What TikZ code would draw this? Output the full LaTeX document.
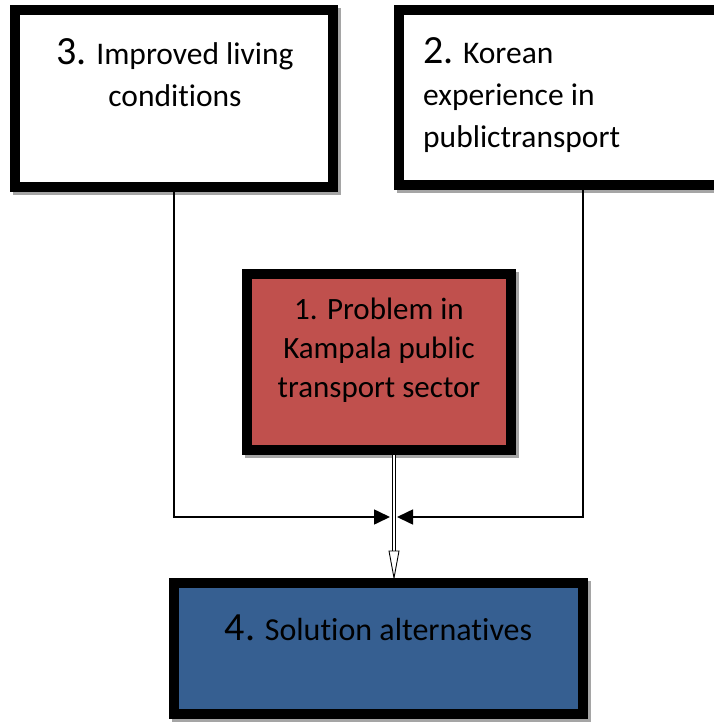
\documentclass[tikz,border=0pt]{standalone}
\usepackage{fontspec}
\setmainfont{Carlito}[Ligatures={NoCommon}]
\usetikzlibrary{arrows.meta,backgrounds}
\definecolor{probred}{HTML}{C0504D}
\definecolor{solblue}{HTML}{365F91}
\definecolor{shadowc}{RGB}{165,165,165}
\newcommand\bignum[1]{{\fontsize{40}{42}\selectfont #1}}
\begin{document}
\begin{tikzpicture}[x=1pt,y=-1pt,
  box/.style={draw=black, line width=10pt, rectangle, inner sep=0pt},
  txt/.style={inner sep=0pt, text=black},
  conn/.style={line width=1.6pt, draw=black},
  tipc/.style={-{Triangle[length=16pt,width=15pt]}}]
\useasboundingbox (0,0) rectangle (713,722);
% boxes
\node[box, fill=white, minimum width=318pt, minimum height=177pt] (b3) at (174,98.5) {};
\node[box, fill=white, minimum width=336pt, minimum height=175pt] (b2) at (567,97.5) {};
\node[box, fill=probred, minimum width=264pt, minimum height=176pt] (b1) at (379,362) {};
\node[box, fill=solblue, minimum width=409pt, minimum height=131pt] (b4) at (378.5,648.5) {};
% shadows
\begin{pgfonlayer}{background}
\foreach \b in {b3,b2,b1,b4}
  \fill[shadowc] ([shift={(3,3)}]\b.north west) rectangle ([shift={(3,3)}]\b.south east);
\end{pgfonlayer}
% texts
\node[txt, anchor=north, align=center, font={\fontsize{31.5}{42}\selectfont}] (t3) at (175,38) {\bignum{3.} Improved living\\conditions};
\node[txt, anchor=north west, align=left, font={\fontsize{31.5}{42}\selectfont}] (t2) at (423,37) {\bignum{2.} Korean\\experience in\\publictransport};
\node[txt, anchor=north, align=center, font={\fontsize{31}{39}\selectfont}] (t1) at (379,298) {1. Problem in\\Kampala public\\transport sector};
\node[txt, anchor=north, font={\fontsize{32}{40}\selectfont}] (t4) at (378.5,615) {\bignum{4.} Solution alternatives};
% connectors
\coordinate (jL) at (390,517);
\coordinate (jR) at (397,517);
\coordinate (rX) at (583,517);
\coordinate (cx) at (394,517);
\draw[conn,tipc] (b3.south) |- (jL);
\draw[conn,tipc] (rX |- b2.south) -- (rX) -- (jR);
% central double arrow
\coordinate (ctip) at (cx |- b4.north);
\draw[line width=1.1pt, double=white, double distance=1.6pt, shorten >=26pt] (cx |- b1.south) -- (ctip);
\draw[line width=0.9pt, fill=white, line join=miter] (ctip) -- ++(-5,-27) -- ++(10,0) -- cycle;
\end{tikzpicture}
\end{document}
